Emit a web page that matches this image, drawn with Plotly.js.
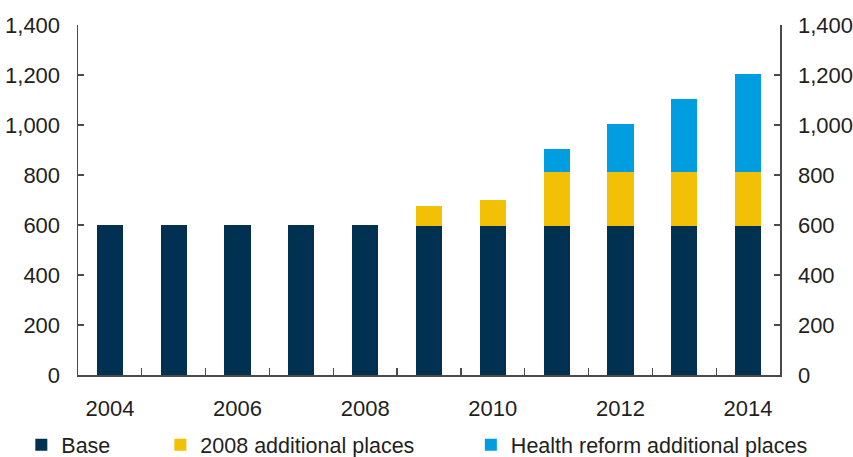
<!DOCTYPE html>
<html><head><meta charset="utf-8">
<script src="https://cdn.plot.ly/plotly-3.0.1.min.js"></script>
<style>body{margin:0}#c{width:853px;height:457px}</style>
</head><body><div id="c"></div>
<script>
const years = [2004,2005,2006,2007,2008,2009,2010,2011,2012,2013,2014];
const baseVals = [600,600,600,600,600,596,596,596,596,596,596];
const add2008Vals = [0,0,0,0,0,80,104,216,216,216,216];
const healthVals = [0,0,0,0,0,0,0,92,192,292,392];
const xTickVals = [2004,2006,2008,2010,2012,2014];
const yTickVals = [0,200,400,600,800,1000,1200,1400];
const yTickText = ['0','200','400','600','800','1,000','1,200','1,400'];
const boundaries = [2004.5,2005.5,2006.5,2007.5,2008.5,2009.5,2010.5,2011.5,2012.5,2013.5];

const fnt = {family:'Liberation Sans, Arial, sans-serif', size:22, color:'#231f20'};
const legFnt = {family:'Liberation Sans, Arial, sans-serif', size:21.5, color:'#231f20'};
const axCol = '#4a4a4a';
const traces = [
  {type:'bar', x:years, y:baseVals, name:'Base', marker:{color:'#003150'}, width:0.41, legend:'legend'},
  {type:'bar', x:years, y:add2008Vals, name:'2008 additional places', marker:{color:'#F2C005'}, width:0.41, legend:'legend2'},
  {type:'bar', x:years, y:healthVals, name:'Health reform additional places', marker:{color:'#009EE0'}, width:0.41, legend:'legend3'},
  {type:'scatter', x:[years[0]], y:[0], yaxis:'y2', mode:'markers', marker:{opacity:0}, showlegend:false, hoverinfo:'skip'}
];
const legBase = {orientation:'h', xref:'container', yref:'container', yanchor:'middle', y:0.027, font:legFnt, bgcolor:'rgba(0,0,0,0)', itemwidth:30, tracegroupgap:0};
const layout = {
  width:853, height:457,
  margin:{l:78, r:73, t:25, b:82},
  barmode:'stack', bargap:0.59,
  paper_bgcolor:'#fff', plot_bgcolor:'#fff',
  font:fnt,
  showlegend:true,
  legend: Object.assign({}, legBase, {x:0.025}),
  legend2: Object.assign({}, legBase, {x:0.188}),
  legend3: Object.assign({}, legBase, {x:0.552}),
  xaxis:{range:[2003.5,2014.5], tickmode:'array', tickvals:xTickVals, ticks:'', showgrid:false, zeroline:false,
    showline:true, linecolor:axCol, linewidth:1.5, ticklabelstandoff:13, tickfont:fnt,
    minor:{tickmode:'array', tickvals:boundaries, ticks:'inside', ticklen:7, tickcolor:axCol, tickwidth:1.2, showgrid:false}},
  yaxis:{range:[0,1400], tickmode:'array', tickvals:yTickVals, ticktext:yTickText, ticks:'inside', ticklen:6,
    tickcolor:axCol, tickwidth:1.2, showline:true, linecolor:axCol, linewidth:1.5, showgrid:false, zeroline:false,
    ticklabelstandoff:12, tickfont:fnt, fixedrange:true},
  yaxis2:{overlaying:'y', side:'right', range:[0,1400], tickmode:'array', tickvals:yTickVals, ticktext:yTickText, ticks:'inside', ticklen:6,
    tickcolor:axCol, tickwidth:1.2, showline:true, linecolor:axCol, linewidth:1.5, showgrid:false, zeroline:false,
    ticklabelstandoff:12, tickfont:fnt}
};
Plotly.newPlot('c', traces, layout, {displayModeBar:false, staticPlot:true});
</script></body></html>
